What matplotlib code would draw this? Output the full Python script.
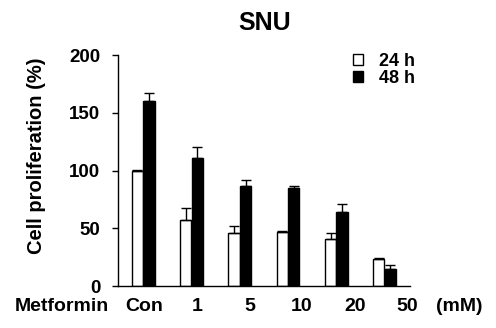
import matplotlib
matplotlib.use("Agg")
import matplotlib.pyplot as plt
import matplotlib.transforms as mtransforms
import numpy as np

categories = ["Con", "1", "5", "10", "20", "50"]
h24 = [100, 57, 46, 47, 41, 23]
h24_err = [0.5, 11, 6, 1, 5, 1]
h48 = [160, 111, 87, 85, 64, 15]
h48_err = [7, 9, 5, 2, 7, 3]
yticks = [0, 50, 100, 150, 200]

plt.rcParams['font.family'] = ['Liberation Sans', 'DejaVu Sans']

fig = plt.figure(figsize=(4.96, 3.28), dpi=100)
ax = fig.add_axes([0.238, 0.128, 0.589, 0.704])

x = np.arange(len(categories))
w = 0.235
off = 0.12
ax.bar(x - off, h24, w, color="white", edgecolor="black", linewidth=1.0, label="24 h", zorder=2)
ax.bar(x + off, h48, w, color="black", edgecolor="black", linewidth=1.0, label="48 h", zorder=2)
ax.errorbar(x - off, h24, yerr=[np.zeros(len(h24)), h24_err], fmt="none",
            ecolor="black", elinewidth=1.0, capsize=3.5, capthick=1.0, zorder=3)
ax.errorbar(x + off, h48, yerr=[np.zeros(len(h48)), h48_err], fmt="none",
            ecolor="black", elinewidth=1.0, capsize=3.5, capthick=1.0, zorder=3)

ax.set_xlim(-0.52, 5.53)
ax.set_ylim(0, 200)
ax.set_yticks(yticks)
ax.set_yticklabels([str(v) for v in yticks], fontsize=13.5, fontweight="bold")
ax.tick_params(axis="y", length=4.3, width=1, pad=8.5)
ax.set_xticks([])
for s in ["top", "right"]:
    ax.spines[s].set_visible(False)
ax.spines["left"].set_linewidth(1.0)
ax.spines["bottom"].set_linewidth(1.0)

ax.set_ylabel("Cell proliferation (%)", fontsize=14.5, fontweight="bold")
ax.yaxis.set_label_coords(-0.245, 0.563)
fig.text(0.534, 0.930, "SNU", ha="center", va="center", fontsize=18, fontweight="bold")

# category labels below axis
blend = mtransforms.blended_transform_factory(ax.transData, fig.transFigure)
label_pos = [0.02 + i * 1.09 for i in range(len(categories))]
for lp, c in zip(label_pos, categories):
    ax.text(lp, 0.066, c, transform=blend, ha="center", va="center",
            fontsize=14, fontweight="bold", clip_on=False)
fig.text(62 / 496, 0.066, "Metformin", ha="center", va="center", fontsize=14, fontweight="bold")
fig.text(459 / 496, 0.066, "(mM)", ha="center", va="center", fontsize=14, fontweight="bold")

leg = ax.legend(loc="upper left", bbox_to_anchor=(0.805, 1.01), frameon=False,
                prop={"size": 13, "weight": "bold"}, handlelength=0.55, handleheight=0.55,
                handletextpad=0.9, labelspacing=0.0, borderaxespad=0, borderpad=0)

fig.savefig("out.png", dpi=100)
